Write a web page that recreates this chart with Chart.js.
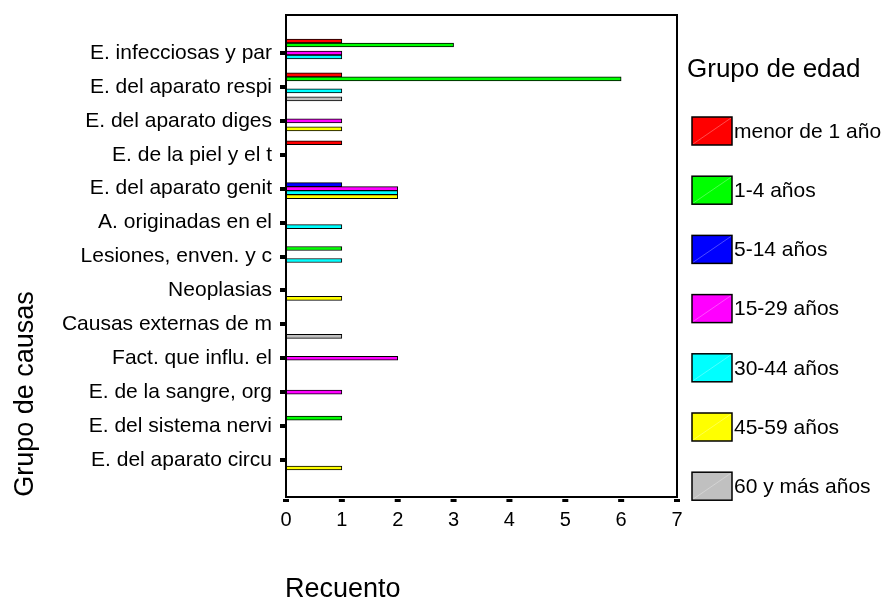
<!DOCTYPE html>
<html>
<head>
<meta charset="utf-8">
<script src="https://cdn.jsdelivr.net/npm/chart.js@4.4.1/dist/chart.umd.min.js"></script>
<style>
  html, body { margin: 0; padding: 0; background: #fff; }
  #wrap { width: 886px; height: 599px; }
</style>
</head>
<body>
<div id="wrap"><canvas id="chart" width="886" height="599"></canvas></div>
<script>
const causas = [
    "E. infecciosas y par",
    "E. del aparato respi",
    "E. del aparato diges",
    "E. de la piel y el t",
    "E. del aparato genit",
    "A. originadas en el",
    "Lesiones, enven. y c",
    "Neoplasias",
    "Causas externas de m",
    "Fact. que influ. el",
    "E. de la sangre, org",
    "E. del sistema nervi",
    "E. del aparato circu",
];

const grupos = ["menor de 1 año", "1-4 años", "5-14 años", "15-29 años", "30-44 años", "45-59 años", "60 y más años"];
const colores = ["#ff0000", "#00ff00", "#0000ff", "#ff00ff", "#00ffff", "#ffff00", "#c0c0c0"];

// recuento por grupo de edad, en el orden de las causas
const menor1 = [1, 1, 0, 1, 0, 0, 0, 0, 0, 0, 0, 0, 0];
const de1a4 = [3, 6, 0, 0, 0, 0, 1, 0, 0, 0, 0, 1, 0];
const de5a14 = [0, 0, 0, 0, 1, 0, 0, 0, 0, 0, 0, 0, 0];
const de15a29 = [1, 0, 1, 0, 2, 0, 0, 0, 0, 2, 1, 0, 0];
const de30a44 = [1, 1, 0, 0, 2, 1, 1, 0, 0, 0, 0, 0, 0];
const de45a59 = [0, 0, 1, 0, 2, 0, 0, 1, 0, 0, 0, 0, 1];
const de60mas = [0, 1, 0, 0, 0, 0, 0, 0, 1, 0, 0, 0, 0];

const xTicks = [0, 1, 2, 3, 4, 5, 6, 7];

const series = [menor1, de1a4, de5a14, de15a29, de30a44, de45a59, de60mas];
const FONT = "'Liberation Sans', Arial, sans-serif";

const datasets = series.map((values, i) => ({
    label: grupos[i],
    data: values,
    backgroundColor: colores[i],
    borderColor: "#000",
    borderWidth: 1,
    borderSkipped: false,
    barThickness: 4,
}));

// marco, marcas del eje X, títulos de ejes y leyenda
const extras = {
    id: "extras",
    afterDraw(chart) {
        const ctx = chart.ctx;
        const area = chart.chartArea;
        const x = chart.scales.x;
        const top = 15;
        const bottom = 497;

        ctx.save();
        ctx.strokeStyle = "#000";
        ctx.lineWidth = 2;
        ctx.strokeRect(area.left, top, area.right - area.left, bottom - top);

        ctx.fillStyle = "#000";
        xTicks.forEach((t) => {
            const px = x.getPixelForValue(t);
            ctx.fillRect(px - 3, bottom + 2, 6, 3);
        });

        ctx.font = "27px " + FONT;
        ctx.textAlign = "left";
        ctx.textBaseline = "alphabetic";
        ctx.fillText("Recuento", 285, 597);

        ctx.save();
        ctx.translate(33, 394);
        ctx.rotate(-Math.PI / 2);
        ctx.textAlign = "center";
        ctx.fillText("Grupo de causas", 0, 0);
        ctx.restore();

        ctx.font = "26px " + FONT;
        ctx.fillText("Grupo de edad", 687, 77);

        ctx.font = "21px " + FONT;
        ctx.textBaseline = "middle";
        grupos.forEach((g, i) => {
            const by = 117 + i * 59.2;
            ctx.fillStyle = colores[i];
            ctx.fillRect(692, by, 40, 28);
            ctx.strokeStyle = "rgba(255,255,255,0.5)";
            ctx.lineWidth = 0.6;
            ctx.beginPath();
            ctx.moveTo(693, by + 27);
            ctx.lineTo(731, by + 1);
            ctx.stroke();
            ctx.strokeStyle = "#000";
            ctx.lineWidth = 1.5;
            ctx.strokeRect(692, by, 40, 28);
            ctx.fillStyle = "#000";
            ctx.fillText(g, 734, by + 15);
        });
        ctx.restore();
    },
};

new Chart(document.getElementById("chart"), {
    type: "bar",
    data: {
        labels: causas,
        datasets: datasets,
    },
    options: {
        indexAxis: "y",
        responsive: false,
        animation: false,
        layout: {
            padding: { top: 36, right: 209, bottom: 0, left: 0 },
        },
        plugins: {
            legend: { display: false },
            tooltip: { enabled: false },
        },
        scales: {
            x: {
                min: 0,
                max: 7,
                afterFit: (scale) => {
                    scale.height = 122;
                },
                afterBuildTicks: (scale) => {
                    scale.ticks = xTicks.map((v) => ({ value: v }));
                },
                grid: { display: false, drawTicks: false },
                border: { display: false },
                ticks: {
                    color: "#000",
                    padding: 31,
                    font: { family: FONT, size: 20 },
                },
            },
            y: {
                afterFit: (scale) => {
                    scale.width = 286;
                },
                grid: {
                    offset: false,
                    drawOnChartArea: false,
                    drawTicks: true,
                    tickLength: 6,
                    lineWidth: 4,
                    color: "#000",
                },
                border: { display: false },
                ticks: {
                    color: "#000",
                    padding: 8,
                    font: { family: FONT, size: 21 },
                },
            },
        },
    },
    plugins: [extras],
});
</script>
</body>
</html>
